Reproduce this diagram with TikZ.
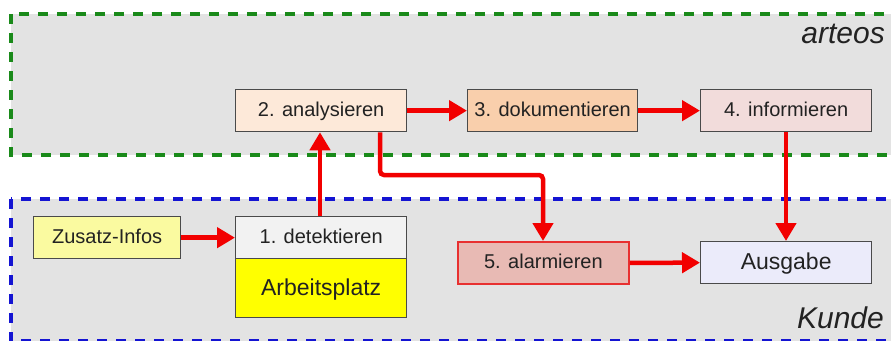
\documentclass[tikz,border=0pt]{standalone}
\usepackage{fontspec}
\setmainfont{Liberation Sans}
\usetikzlibrary{arrows.meta}
\definecolor{regfill}{HTML}{E3E3E3}
\definecolor{grnd}{HTML}{1A8A1A}
\definecolor{blud}{HTML}{1414D2}
\definecolor{txt}{HTML}{222222}
\definecolor{bord}{HTML}{4A4A4A}
\definecolor{arr}{HTML}{F20000}
\definecolor{cTwo}{HTML}{FDE9D9}
\definecolor{cThree}{HTML}{F9CFAC}
\definecolor{cFour}{HTML}{F2DCDB}
\definecolor{cZus}{HTML}{FAFAA0}
\definecolor{cDet}{HTML}{F2F2F2}
\definecolor{cArb}{HTML}{FFFF00}
\definecolor{cAl}{HTML}{E8BAB4}
\definecolor{cAlB}{HTML}{E83030}
\definecolor{cAus}{HTML}{EBEBFA}
\tikzset{
  region/.style={fill=regfill, line width=4pt, dash pattern=on 10pt off 9pt},
  stepbox/.style={draw=bord, line width=1.3pt, minimum width=171pt, minimum height=42pt,
    inner sep=0pt, text=txt, font=\fontsize{20}{24}\selectfont, anchor=north west,
    text height=14.5pt, text depth=2.4pt},
  bigtext/.style={font=\fontsize{23}{27}\selectfont, text height=16.5pt, text depth=2.8pt},
  flow/.style={draw=arr, line width=4.5pt, -{Triangle[length=18pt,width=20pt]}},
  zone/.style={font=\fontsize{30}{34}\selectfont\itshape, text=txt, inner sep=0pt}
}
\begin{document}
\begin{tikzpicture}[x=1pt,y=-1pt]
\clip (0,0) rectangle (891,340);
\fill[white] (0,0) rectangle (891,340);
% regions
\draw[region, draw=grnd] (11,14) rectangle (905,155);
\draw[region, draw=blud] (11,199) rectangle (905,341);
\node[zone, anchor=base east] (arteos) at (885,43) {arteos};
\node[zone, anchor=base east] (kunde) at (884,328) {Kunde};
% nodes
\node[stepbox, fill=cTwo] (ana) at (235,89) {2. analysieren};
\node[stepbox, fill=cThree, minimum width=170pt] (dok) at (467,89) {3. dokumentieren};
\node[stepbox, fill=cFour] (inf) at (700,89) {4. informieren};
\node[stepbox, fill=cZus, minimum width=147pt] (zus) at (33,216) {Zusatz-Infos};
\node[stepbox, fill=cDet] (det) at (235,216) {1. detektieren};
\node[stepbox, fill=cArb, minimum height=59pt, bigtext] (arb) at (235,258) {Arbeitsplatz};
\node[stepbox, fill=cAl, draw=cAlB, line width=1.8pt] (ala) at (457,241) {5. alarmieren};
\node[stepbox, fill=cAus, bigtext] (aus) at (700,241) {Ausgabe};
% connectors
\draw[flow] (ana.east) -- (dok.west);
\draw[flow] (dok.east) -- (inf.west);
\draw[flow] (zus.east) -- (det.west);
\draw[flow] (det.north -| 320,0) -- (ana.south -| 320,0);
\draw[flow, rounded corners=4pt] (ana.south -| 380,0) |- (543,175) -- (ala.north -| 543,0);
\draw[flow] (inf.south -| 786,0) -- (aus.north -| 786,0);
\draw[flow] (ala.east) -- (aus.west);
\end{tikzpicture}
\end{document}
